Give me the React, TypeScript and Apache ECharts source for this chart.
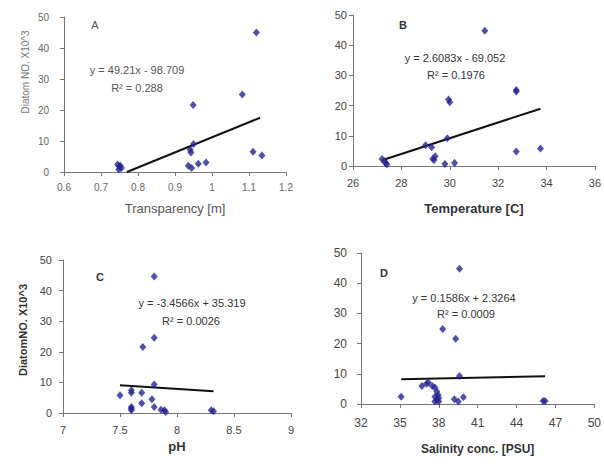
import React, { useEffect, useRef } from "react";
import * as echarts from "echarts";

// Panel A: transparency vs diatom number
const transparencyX = [0.745, 0.75, 0.755, 0.748, 0.752, 0.936, 0.945, 0.941, 0.943, 0.95, 0.949, 0.963, 0.984, 1.082, 1.12, 1.111, 1.135];
const diatomA = [2.4, 1.8, 1.3, 0.8, 2.0, 2.0, 1.3, 7.2, 6.3, 9.0, 21.6, 2.7, 3.1, 25.0, 45.0, 6.5, 5.3];
const trendAX = [0.77, 1.13];
const trendAY = [0, 17.5];

// Panel B: temperature
const temperatureX = [27.2, 27.3, 27.35, 27.4, 29.0, 29.25, 29.3, 29.4, 29.35, 29.8, 30.2, 29.9, 29.95, 30.0, 31.45, 32.75, 32.75, 32.75, 33.75];
const diatomB = [2.3, 1.6, 1.0, 0.5, 6.9, 6.2, 2.4, 3.2, 2.0, 0.7, 1.0, 9.2, 22.0, 21.1, 44.8, 24.7, 25.2, 4.8, 5.8];
const coefB = [2.6083, -69.052];

// Panel C: pH
const phX = [7.5, 7.6, 7.6, 7.6, 7.6, 7.6, 7.69, 7.69, 7.78, 7.8, 7.8, 7.86, 7.89, 7.9, 8.3, 8.32, 7.7, 7.8, 7.8];
const diatomC = [5.8, 7.4, 6.6, 2.0, 0.9, 1.5, 6.6, 3.2, 4.5, 9.3, 2.0, 1.1, 0.9, 0.3, 0.9, 0.6, 21.6, 24.6, 44.6];
const trendCX = [7.5, 8.32];
const trendCY = [9.1, 7.1];

// Panel D: salinity
const salinityX = [35.1, 36.7, 37.05, 37.2, 37.5, 37.7, 37.85, 37.95, 37.7, 37.85, 37.7, 38.0, 38.0, 38.3, 39.3, 39.6, 39.6, 39.2, 39.5, 39.9, 46.05, 46.2];
const diatomD = [2.4, 6.0, 6.7, 7.1, 6.0, 5.5, 4.1, 3.0, 2.4, 1.3, 0.8, 0.8, 2.0, 24.8, 21.6, 44.8, 9.3, 1.6, 0.8, 2.2, 1.0, 1.0];
const trendDX = [35.1, 46.2];
const trendDY = [8.2, 9.2];

const equations = ["y = 49.21x - 98.709", "y = 2.6083x - 69.052", "y = -3.4566x + 35.319", "y = 0.1586x + 2.3264"];
const rSquared = ["R² = 0.288", "R² = 0.1976", "R² = 0.0026", "R² = 0.0009"];
const panelLetters = ["A", "B", "C", "D"];
const xTitles = ["Transparency [m]", "Temperature [C]", "pH", "Salinity conc. [PSU]"];
const yTitles = ["Diatom NO. X10^3", "DiatomNO. X10^3"];

const zip = (xs: number[], ys: number[]) => xs.map((x, i) => [x, ys[i]]);
const fitLine = (xs: number[], c: number[]) => {
  const lo = Math.min(...xs);
  const hi = Math.max(...xs);
  return [[lo, c[0] * lo + c[1]], [hi, c[0] * hi + c[1]]];
};

const FONT = "Liberation Sans, Arial, sans-serif";
const MARK = "#24248e";

export default function App() {
  const ref = useRef<HTMLDivElement>(null);
  useEffect(() => {
    if (!ref.current) return;
    const chart = echarts.init(ref.current, null, { renderer: "svg" });
    const grids = [
      { left: 64, top: 17, width: 222, height: 155 },
      { left: 353, top: 15, width: 246, height: 151 },
      { left: 63, top: 260, width: 228, height: 153 },
      { left: 361, top: 253, width: 239, height: 151 },
    ];
    const xRanges = [
      { min: 0.6, max: 1.2, interval: 0.1 },
      { min: 26, max: 36, interval: 2 },
      { min: 7, max: 9, interval: 0.5 },
      { min: 32, max: 50, interval: 3 },
    ];
    const labelColors = ["#666", "#444", "#444", "#444"];
    const labelSizes = [10, 11, 11, 12];
    const xMargins = [10, 11, 11, 13];
    const yMargins = [15, 6, 11, 14];
    const nameGaps = [30, 36, 27, 39];
    const nameWeights = ["normal", "bold", "bold", "bold"];
    const nameSizes = [13, 13, 13, 12];
    const axisLine = { show: true, lineStyle: { color: "#777", width: 1 } };
    const axisTick = { show: true, inside: false, length: 4, lineStyle: { color: "#777" } };

    const xAxis = xRanges.map((r, i) => ({
      type: "value",
      gridIndex: i,
      ...r,
      axisLine: { ...axisLine, onZero: false },
      axisTick,
      splitLine: { show: false },
      axisLabel: { color: labelColors[i], fontSize: labelSizes[i], fontFamily: FONT, margin: xMargins[i], showMaxLabel: true },
      name: xTitles[i],
      nameLocation: "middle",
      nameGap: nameGaps[i],
      nameTextStyle: { color: i === 0 ? "#555" : "#333", fontSize: nameSizes[i], fontWeight: nameWeights[i], fontFamily: FONT },
    }));
    const yAxis = grids.map((_, i) => ({
      type: "value",
      gridIndex: i,
      min: 0,
      max: 50,
      interval: 10,
      axisLine,
      axisTick,
      splitLine: { show: false },
      axisLabel: { color: labelColors[i], fontSize: labelSizes[i], fontFamily: FONT, margin: yMargins[i] },
    }));

    const scatters = [
      zip(transparencyX, diatomA),
      zip(temperatureX, diatomB),
      zip(phX, diatomC),
      zip(salinityX, diatomD),
    ];
    const lines = [
      zip(trendAX, trendAY),
      fitLine(temperatureX, coefB),
      zip(trendCX, trendCY),
      zip(trendDX, trendDY),
    ];
    const series: any[] = [];
    scatters.forEach((d, i) => {
      series.push({
        type: "line",
        xAxisIndex: i,
        yAxisIndex: i,
        data: lines[i],
        showSymbol: false,
        lineStyle: { color: "#111", width: 2 },
        z: 3,
      });
      series.push({
        type: "scatter",
        xAxisIndex: i,
        yAxisIndex: i,
        data: d,
        symbol: "diamond",
        symbolSize: [7, 8],
        itemStyle: { color: MARK },
        z: 4,
      });
    });

    const txt = (x: number, y: number, text: string, opts: any = {}) => ({
      type: "text",
      x,
      y,
      rotation: opts.rotation || 0,
      style: {
        text,
        fill: opts.fill || "#333",
        font: `${opts.weight || "normal"} ${opts.size || 11}px ${FONT}`,
        textAlign: "center",
        textVerticalAlign: "middle",
      },
    });

    const eqPos = [
      [137, 70, 137, 88],
      [455, 58, 456, 75],
      [192, 303, 191, 321],
      [464, 298, 466, 314],
    ];
    const letterPos = [
      [95, 25, "normal", "#555"],
      [403, 25, "bold", "#333"],
      [100, 277, "bold", "#333"],
      [384, 273, "bold", "#333"],
    ];
    const graphic: any[] = [];
    eqPos.forEach((p, i) => {
      graphic.push(txt(p[0], p[1], equations[i], { fill: i === 0 ? "#555" : "#333" }));
      graphic.push(txt(p[2], p[3], rSquared[i], { fill: i === 0 ? "#555" : "#333" }));
    });
    letterPos.forEach((p: any, i) => {
      graphic.push(txt(p[0], p[1], panelLetters[i], { weight: p[2], fill: p[3], size: 11 }));
    });
    graphic.push(txt(25, 72, yTitles[0], { rotation: Math.PI / 2, fill: "#777", size: 10 }));
    graphic.push(txt(23, 330, yTitles[1], { rotation: Math.PI / 2, fill: "#333", size: 11, weight: "bold" }));

    chart.setOption({
      animation: false,
      backgroundColor: "#fff",
      grid: grids,
      xAxis,
      yAxis,
      series,
      graphic,
    });
    return () => chart.dispose();
  }, []);
  return <div ref={ref} style={{ position: "fixed", left: 0, top: 0, width: 604, height: 465 }} />;
}
